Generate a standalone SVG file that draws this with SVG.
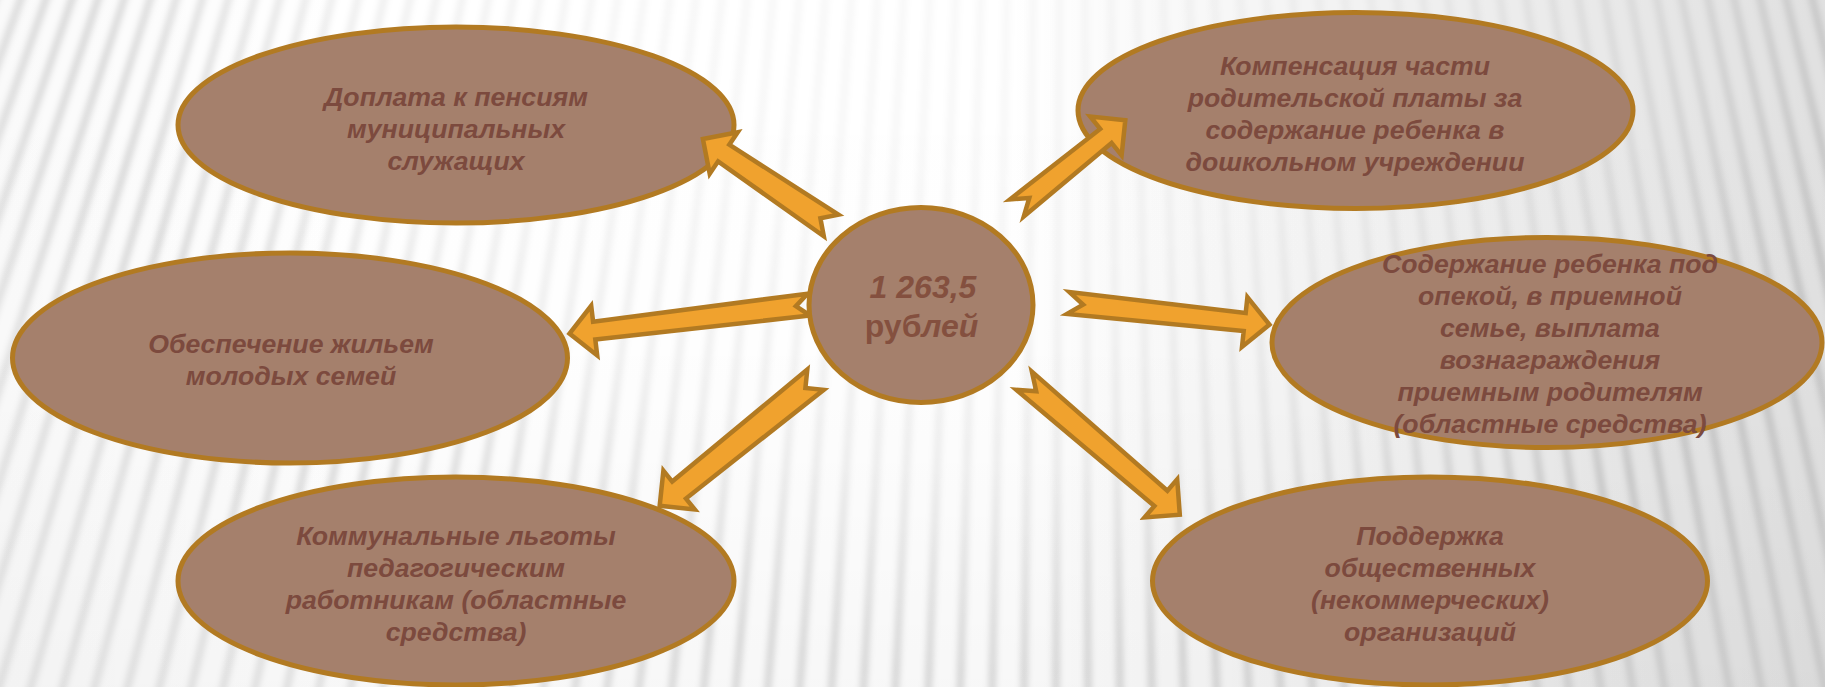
<svg xmlns="http://www.w3.org/2000/svg" width="1825" height="687" viewBox="0 0 1825 687">
<style>
.node{fill:#a5806c;stroke:#b27a22;stroke-width:5}
.arrow{fill:#f0a22e;stroke:#b27a22;stroke-width:4.5;stroke-linejoin:miter;stroke-miterlimit:12}
text{font-family:"Liberation Sans",Arial,sans-serif;font-size:26.67px;font-weight:bold;font-style:italic;fill:#7c4a3e;text-anchor:middle}
.big{font-size:32px;fill:#84503f}
.up{font-style:normal}
.stripes{fill:none;stroke:#000;stroke-width:7}
</style>
<defs>
<filter id="soft" filterUnits="userSpaceOnUse" x="-20" y="-20" width="1865" height="727"><feGaussianBlur stdDeviation="3"/></filter>
<radialGradient id="fade" gradientUnits="userSpaceOnUse" cx="1000" cy="-40" r="1300" gradientTransform="scale(1 .77)">
<stop offset="0" stop-color="#fff" stop-opacity=".03"/>
<stop offset=".3" stop-color="#fff" stop-opacity=".04"/>
<stop offset=".5" stop-color="#fff" stop-opacity=".07"/>
<stop offset=".7" stop-color="#fff" stop-opacity=".15"/>
<stop offset=".85" stop-color="#fff" stop-opacity=".11"/>
<stop offset="1" stop-color="#fff" stop-opacity=".1"/>
</radialGradient>
<mask id="fadeMask" maskUnits="userSpaceOnUse" x="0" y="0" width="1825" height="687"><rect width="1825" height="687" fill="url(#fade)"/></mask>
<linearGradient id="shadeX" gradientUnits="userSpaceOnUse" x1="0" y1="0" x2="1825" y2="0">
<stop offset="0" stop-color="#000" stop-opacity=".02"/>
<stop offset=".2" stop-color="#000" stop-opacity="0"/>
<stop offset=".55" stop-color="#000" stop-opacity="0"/>
<stop offset="1" stop-color="#000" stop-opacity=".12"/>
</linearGradient>
<linearGradient id="shadeY" gradientUnits="userSpaceOnUse" x1="0" y1="0" x2="0" y2="687">
<stop offset="0" stop-color="#000" stop-opacity="0"/>
<stop offset=".5" stop-color="#000" stop-opacity=".005"/>
<stop offset="1" stop-color="#000" stop-opacity=".03"/>
</linearGradient>
</defs>
<g id="background">
<rect width="1825" height="687" fill="#fff"/>
<g mask="url(#fadeMask)"><path class="stripes" filter="url(#soft)" d="M-2-10L-261 697M24-10L-229 697M49-10L-197 697M75-10L-165 697M101-10L-133 697M127-10L-100 697M153-10L-68 697M179-10L-36 697M205-10L-4 697M231-10L28 697M257-10L60 697M282-10L92 697M308-10L125 697M334-10L157 697M360-10L189 697M386-10L221 697M412-10L253 697M438-10L285 697M464-10L317 697M490-10L349 697M515-10L381 697M541-10L414 697M567-10L446 697M593-10L478 697M619-10L510 697M645-10L542 697M671-10L574 697M697-10L606 697M723-10L638 697M748-10L671 697M774-10L703 697M800-10L735 697M826-10L767 697M852-10L799 697M878-10L831 697M904-10L863 697M930-10L895 697M956-10L928 697M981-10L960 697M1007-10L992 697M1033-10L1024 697M1059-10L1056 697M1085-10L1088 697M1111-10L1120 697M1137-10L1152 697M1163-10L1184 697M1189-10L1217 697M1214-10L1249 697M1240-10L1281 697M1266-10L1313 697M1292-10L1345 697M1318-10L1377 697M1344-10L1409 697M1370-10L1441 697M1396-10L1474 697M1422-10L1506 697M1447-10L1538 697M1473-10L1570 697M1499-10L1602 697M1525-10L1634 697M1551-10L1666 697M1577-10L1698 697M1603-10L1731 697M1629-10L1763 697M1655-10L1795 697M1680-10L1827 697M1706-10L1859 697M1732-10L1891 697M1758-10L1923 697M1784-10L1955 697M1810-10L1987 697M1836-10L2020 697"/></g>
<rect width="1825" height="687" fill="url(#shadeX)"/>
<rect width="1825" height="687" fill="url(#shadeY)"/>
</g>
<g id="node-pensions">
<ellipse class="node" cx="456" cy="125" rx="278" ry="98"/>
<text x="456" y="106">Доплата к пенсиям</text>
<text x="456" y="138">муниципальных</text>
<text x="456" y="170">служащих</text>
</g>
<g id="node-housing">
<ellipse class="node" cx="290" cy="358" rx="277.5" ry="105"/>
<text x="291" y="353">Обеспечение жильем</text>
<text x="291" y="385">молодых семей</text>
</g>
<g id="node-utilities">
<ellipse class="node" cx="456" cy="581" rx="278" ry="104"/>
<text x="456" y="545">Коммунальные льготы</text>
<text x="456" y="577">педагогическим</text>
<text x="456" y="609">работникам (областные</text>
<text x="456" y="641">средства)</text>
</g>
<g id="node-compensation">
<ellipse class="node" cx="1355.5" cy="110.5" rx="277.5" ry="98"/>
<text x="1355" y="75">Компенсация части</text>
<text x="1355" y="107">родительской платы за</text>
<text x="1355" y="139">содержание ребенка в</text>
<text x="1355" y="171">дошкольном учреждении</text>
</g>
<g id="node-custody">
<ellipse class="node" cx="1547" cy="342.5" rx="275" ry="105"/>
</g>
<g id="node-support">
<ellipse class="node" cx="1430" cy="581" rx="277.5" ry="104"/>
<text x="1430" y="545">Поддержка</text>
<text x="1430" y="577">общественных</text>
<text x="1430" y="609">(некоммерческих)</text>
<text x="1430" y="641">организаций</text>
</g>
<g id="connectors">
<polygon class="arrow" points="702.9,139 737.7,132.3 729.3,144.7 838.4,214.7 820.4,218.2 823.8,236.3 718.1,161.3 709.7,173.7"/>
<polygon class="arrow" points="569.5,333.6 591.2,305.8 593.1,321.7 807.5,293.7 795.9,306.2 810.1,315.5 595.3,339.5 597.2,355.4"/>
<polygon class="arrow" points="659.7,505.8 663.4,470.7 672.2,481.6 807.3,369.6 805.4,387.9 823.7,389.8 686,498.6 694.8,509.5"/>
<polygon class="arrow" points="1125.3,120.2 1090.2,116.5 1100.2,128.9 1010,199.4 1029.3,197.9 1023.8,216.4 1111.6,142.9 1121.6,155.3"/>
<polygon class="arrow" points="1269.5,324.6 1247.4,297.1 1245.7,313.1 1069.4,292.1 1083.1,304.6 1067,313.9 1243.7,330.9 1242,346.9"/>
<polygon class="arrow" points="1179.8,514.7 1177.2,479.4 1167.4,490.8 1031.9,371.6 1036.2,391.2 1016.3,389.8 1154.4,506 1144.6,517.4"/>
</g>
<g id="node-custody-label">
<text x="1550" y="273">Содержание ребенка под</text>
<text x="1550" y="305">опекой, в приемной</text>
<text x="1550" y="337">семье, выплата</text>
<text x="1550" y="369">вознаграждения</text>
<text x="1550" y="401">приемным родителям</text>
<text x="1550" y="433">(областные средства)</text>
</g>
<g id="node-total">
<ellipse class="node" cx="921" cy="305" rx="112" ry="97.5"/>
<text class="big" x="923" y="298">1 263,5</text>
<text class="big" x="921.5" y="337"><tspan class="up">руб</tspan>лей</text>
</g>
</svg>
